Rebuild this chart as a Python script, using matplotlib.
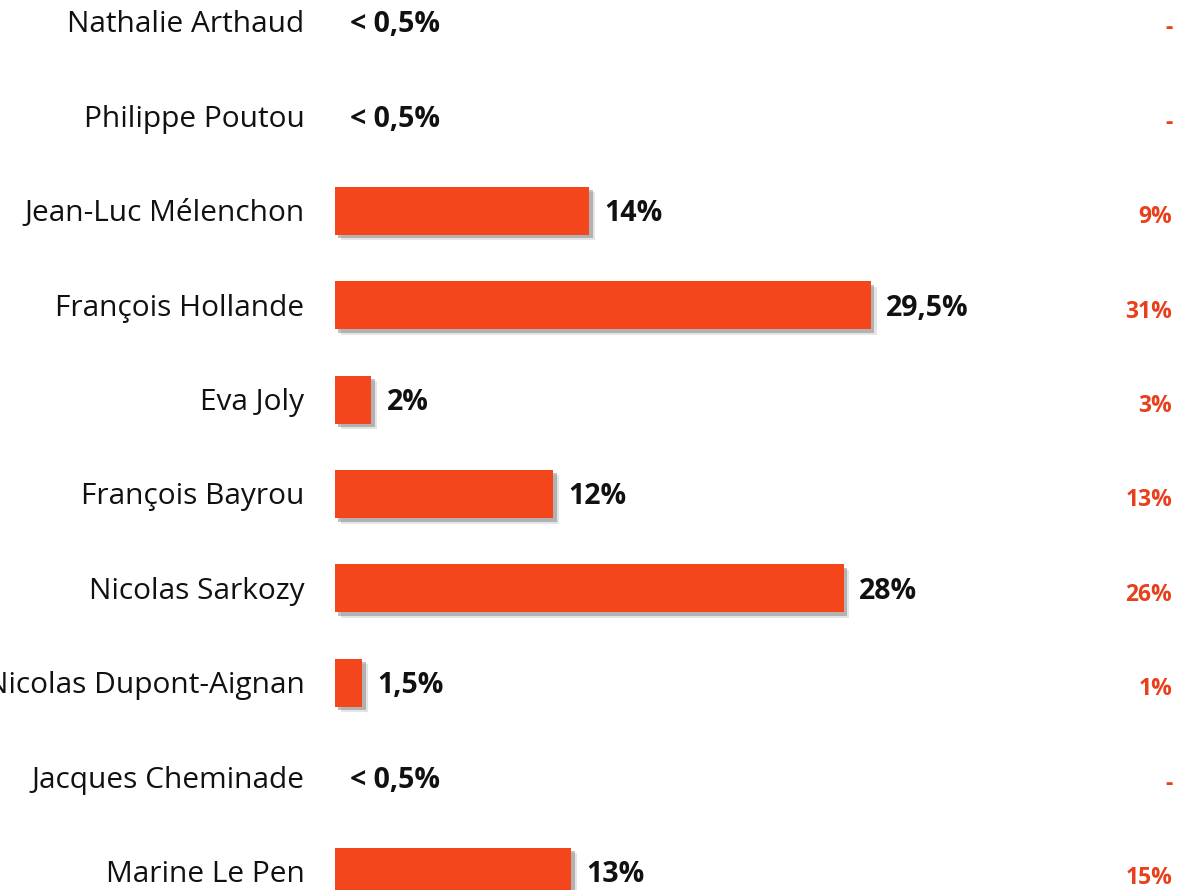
import matplotlib
matplotlib.use("Agg")
import matplotlib.pyplot as plt
import matplotlib.patheffects as pe

plt.rcParams['font.family'] = ['Open Sans', 'DejaVu Sans']

names = ["Nathalie Arthaud", "Philippe Poutou", "Jean-Luc Mélenchon",
         "François Hollande", "Eva Joly", "François Bayrou", "Nicolas Sarkozy",
         "Nicolas Dupont-Aignan", "Jacques Cheminade", "Marine Le Pen"]
values = [0, 0, 14, 29.5, 2, 12, 28, 1.5, 0, 13]
value_labels = ["< 0,5%", "< 0,5%", "14%", "29,5%", "2%", "12%", "28%",
                "1,5%", "< 0,5%", "13%"]
previous = ["-", "-", "9%", "31%", "3%", "13%", "26%", "1%", "-", "15%"]

bar_color = "#F4461C"
prev_color = "#E8401C"

fig = plt.figure(figsize=(11.89, 8.9), dpi=100)
ax = fig.add_axes([0, 0, 1, 1])

pos = list(range(len(names)))
bars = ax.barh(pos, values, height=0.51, color=bar_color, zorder=2)
# soft drop shadow
for b in bars:
    b.set_path_effects([
        pe.SimplePatchShadow(offset=(4, -4), shadow_rgbFace="#999999", alpha=0.25),
        pe.SimplePatchShadow(offset=(2.5, -2.5), shadow_rgbFace="#666666", alpha=0.4),
        pe.Normal()])

for i in pos:
    ax.annotate(names[i], (0, i), xytext=(-22, -7.5), textcoords="offset points",
                ha="right", va="baseline", fontsize=21.5, color="#111111")
    ax.annotate(value_labels[i], (values[i], i), xytext=(11, -7.5), textcoords="offset points",
                ha="left", va="baseline", fontsize=20.5, fontweight="bold", color="#111111")
    ax.annotate(previous[i], (1, i), xycoords=("axes fraction", "data"),
                xytext=(-12, -9), textcoords="offset points",
                ha="right", va="baseline", fontsize=16.5, fontweight="bold", color=prev_color)

px = 18.17
ax.set_xlim(-335 / px, (1189 - 335) / px)
ax.set_ylim((890 - 22) / 94.4, -22 / 94.4)
ax.axis("off")

fig.savefig("out.png", dpi=100)
